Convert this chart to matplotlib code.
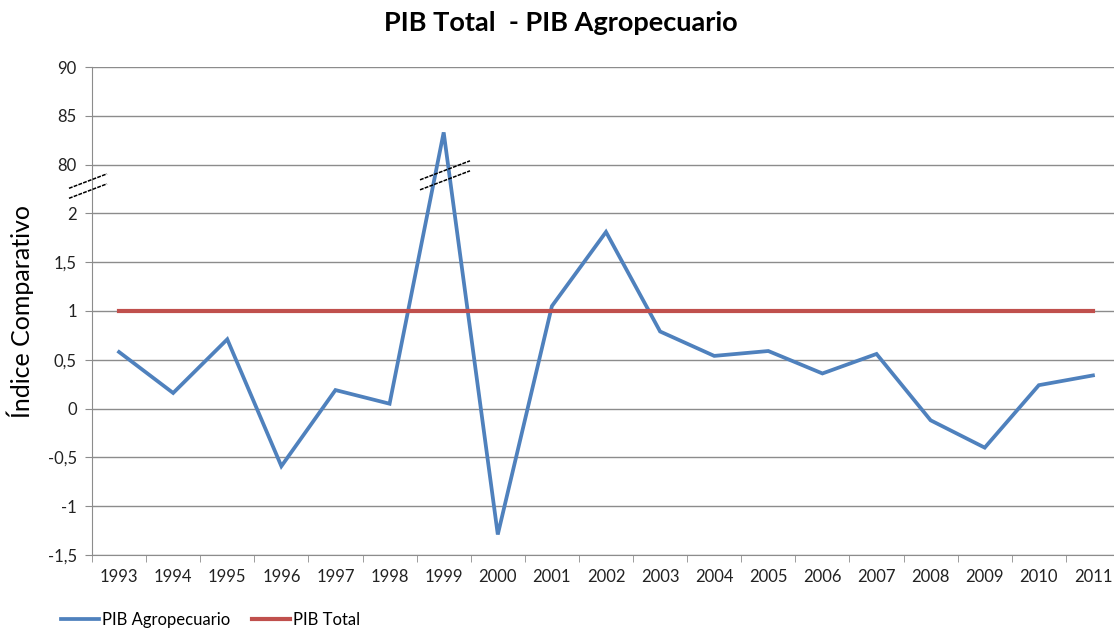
import numpy as np
import matplotlib.pyplot as plt
from matplotlib.lines import Line2D

plt.rcParams['font.family'] = ['Lato', 'DejaVu Sans']

# datos
years = [str(y) for y in range(1993, 2012)]
pib_agro = [0.58, 0.16, 0.71, -0.59, 0.19, 0.05, 83.3, -1.29, 1.05, 1.81,
            0.79, 0.54, 0.59, 0.36, 0.56, -0.12, -0.40, 0.24, 0.34]
pib_total = [1.0] * len(years)
yticks = [-1.5, -1, -0.5, 0, 0.5, 1, 1.5, 2, 80, 85, 90]
ytick_labels = ['-1,5', '-1', '-0,5', '0', '0,5', '1', '1,5', '2', '80', '85', '90']

blue = '#4F81BD'
red = '#C0504D'
grid = '#8C8C8C'


# eje cortado: 2..80 comprimido en medio intervalo
def fwd(v):
    v = np.asarray(v, dtype=float)
    return np.where(v <= 2, v,
                    np.where(v < 80, 2 + (v - 2) / 78 * 0.5, 2.5 + (v - 80) / 10))


def inv(t):
    t = np.asarray(t, dtype=float)
    return np.where(t <= 2, t,
                    np.where(t < 2.5, 2 + (t - 2) / 0.5 * 78, 80 + (t - 2.5) * 10))


W, H = 1114, 629
fig = plt.figure(figsize=(W / 100, H / 100), dpi=100)
ax = fig.add_axes([92 / W, (H - 555) / H, 1028 / W, 488 / H])

x = np.arange(len(years))
ax.set_yscale('function', functions=(fwd, inv))
ax.set_ylim(-1.5, 90)
ax.set_xlim(-0.5, len(years) - 0.5)

ax.set_yticks(yticks)
ax.set_yticklabels(ytick_labels)
ax.yaxis.grid(True, color=grid, linewidth=1.0)
ax.set_axisbelow(True)

ax.plot(x, pib_agro, color=blue, linewidth=2.7, solid_joinstyle='miter', zorder=3)
ax.plot(x, pib_total, color=red, linewidth=3.0, zorder=3)

ax.set_xticks(x)
ax.set_xticklabels(years)
ax.set_xticks(np.arange(len(years) + 1) - 0.5, minor=True)
ax.tick_params(axis='x', which='major', length=0, pad=10, labelsize=12, colors='#222222')
ax.tick_params(axis='x', which='minor', length=5, color=grid, direction='out')
ax.tick_params(axis='y', length=5, color=grid, pad=6, labelsize=12, colors='#222222')
for s in ['top', 'right']:
    ax.spines[s].set_visible(False)
ax.spines['left'].set_color(grid)
ax.spines['bottom'].set_color(grid)

ax.set_ylabel('Índice Comparativo', fontsize=18, labelpad=10)
fig.text(561 / W, 1 - 23 / H, 'PIB Total  - PIB Agropecuario', ha='center', va='center',
         fontsize=19.5, fontweight='bold')


# marcas de corte
def break_mark(xc, yc, half):
    aw, ah = 1028, 488
    for off in (-5, 5):
        dx = half / aw
        dy = half * 0.38 / ah
        yy = yc - off / ah
        ax.plot([xc - dx, xc + dx], [yy - dy, yy + dy], transform=ax.transAxes,
                color='black', linewidth=1.1, linestyle=(0, (2.5, 0.8)),
                clip_on=False, zorder=5)


break_mark(-4 / 1028, 0.756, 19)
break_mark((445 - 92) / 1028, 0.778, 25)

handles = [Line2D([], [], color=blue, linewidth=2.7),
           Line2D([], [], color=red, linewidth=3.0)]
fig.legend(handles, ['PIB Agropecuario', 'PIB Total'], loc='center left',
           bbox_to_anchor=(46 / W, 1 - 620 / H), ncol=2, frameon=False,
           fontsize=12, handlelength=2.3, handletextpad=0.15, columnspacing=1.3)

fig.savefig('out.png', dpi=100)
